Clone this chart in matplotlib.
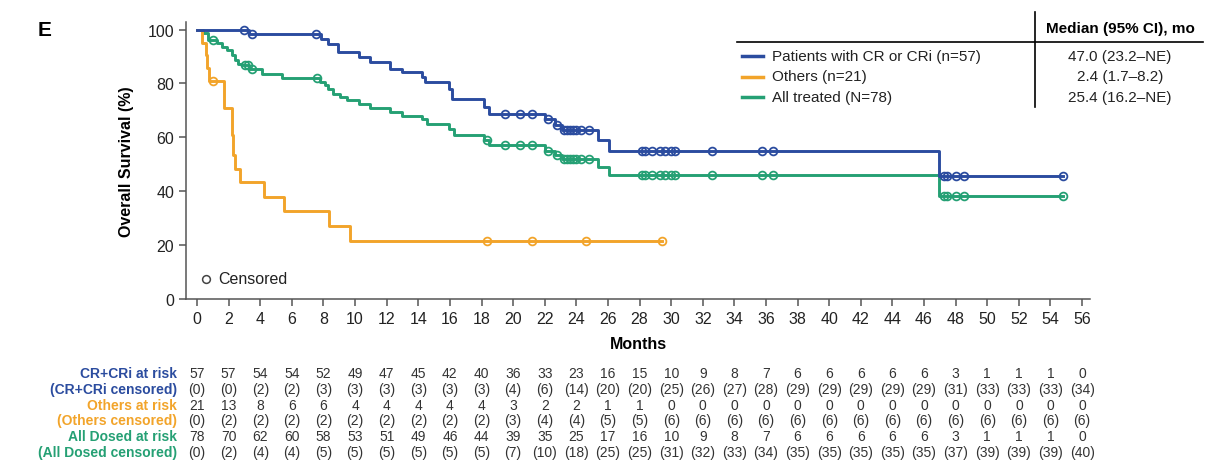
import numpy as np
import matplotlib
matplotlib.use("Agg")
from matplotlib import pyplot as plt
from matplotlib.lines import Line2D
from matplotlib import transforms

plt.rcParams['font.family'] = ['Liberation Sans', 'DejaVu Sans']

BLUE = '#2B4C9F'
ORANGE = '#F2A42A'
GREEN = '#25A074'

# Kaplan-Meier steps (month, survival %)
cr_t = [0, 3.3, 7.85, 8.3, 8.9, 10.22, 10.96, 12.22, 12.96, 14.23, 14.44, 15.92,
        16.13, 18.13, 18.45, 22.04, 22.67, 23.1, 25.4, 26.05, 46.95]
cr_s = [100, 98.2, 96.5, 94.7, 91.6, 89.8, 88.0, 85.5, 84.3, 82.4, 80.6, 78.1,
        74.3, 71.3, 68.8, 66.9, 64.4, 62.6, 58.9, 55.1, 45.8]
cr_cens = [3.0, 3.5, 7.55, 19.5, 20.46, 21.2, 22.2, 22.8, 23.2, 23.4, 23.6, 23.8,
           24.0, 24.3, 24.78, 28.16, 28.37, 28.8, 29.32, 29.64, 29.96, 30.27,
           32.6, 35.76, 36.46, 47.27, 47.48, 48.0, 48.53, 54.76]

oth_t = [0, 0.32, 0.55, 0.65, 0.74, 1.69, 2.22, 2.3, 2.43, 2.74, 4.22, 5.47, 8.32, 9.65]
oth_s = [100, 95.2, 90.5, 85.7, 81.0, 70.9, 60.8, 53.3, 48.3, 43.4, 37.8, 32.5, 27.0, 21.6]
oth_cens = [0.99, 18.35, 21.2, 24.64, 29.39]

all_t = [0, 0.4, 0.72, 1.25, 1.56, 1.88, 2.2, 2.4, 2.62, 2.83, 3.3, 4.1, 5.36,
         7.79, 8.1, 8.3, 8.63, 9.05, 9.48, 10.22, 10.96, 12.22, 12.96, 14.23,
         14.55, 15.92, 16.23, 18.13, 18.45, 22.04, 22.67, 23.1, 25.4, 26.05, 46.95]
all_s = [100, 98.7, 96.2, 94.9, 93.6, 92.3, 90.5, 88.6, 87.3, 86.7, 85.4, 83.6, 82.0,
         80.6, 79.3, 78.1, 76.2, 75.0, 73.7, 72.5, 70.9, 69.4, 68.1, 66.9,
         65.1, 63.2, 60.7, 58.9, 57.0, 55.1, 53.3, 52.0, 49.0, 46.1, 38.4]
all_cens = [0.98, 3.04, 3.25, 3.46, 7.6, 18.35, 19.5, 20.46, 21.2, 22.2, 22.8, 23.2,
            23.4, 23.6, 23.8, 24.0, 24.3, 24.78, 28.16, 28.37, 28.8, 29.32, 29.64,
            29.96, 30.27, 32.6, 35.76, 36.46, 47.27, 47.48, 48.0, 48.53, 54.76]

labels = ['Patients with CR or CRi (n=57)', 'Others (n=21)', 'All treated (N=78)']
medians = ['47.0 (23.2\u2013NE)', '2.4 (1.7\u20138.2)', '25.4 (16.2\u2013NE)']

# numbers at risk / censored, every 2 months
risk_months = list(range(0, 57, 2))
cr_risk = [57, 57, 54, 54, 52, 49, 47, 45, 42, 40, 36, 33, 23, 16, 15, 10, 9, 8, 7,
           6, 6, 6, 6, 6, 3, 1, 1, 1, 0]
cr_ncens = [0, 0, 2, 2, 3, 3, 3, 3, 3, 3, 4, 6, 14, 20, 20, 25, 26, 27, 28, 29, 29,
            29, 29, 29, 31, 33, 33, 33, 34]
oth_risk = [21, 13, 8, 6, 6, 4, 4, 4, 4, 4, 3, 2, 2, 1, 1] + [0] * 14
oth_ncens = [0, 2, 2, 2, 2, 2, 2, 2, 2, 2, 3, 4, 4, 5, 5] + [6] * 14
all_risk = [78, 70, 62, 60, 58, 53, 51, 49, 46, 44, 39, 35, 25, 17, 16, 10, 9, 8, 7,
            6, 6, 6, 6, 6, 3, 1, 1, 1, 0]
all_ncens = [0, 2, 4, 4, 5, 5, 5, 5, 5, 5, 7, 10, 18, 25, 25, 31, 32, 33, 34, 35, 35,
             35, 35, 35, 37, 39, 39, 39, 40]

W, H = 1217, 477
fig = plt.figure(figsize=(W / 100, H / 100), dpi=100)
fig.patch.set_facecolor('white')
ax = fig.add_axes([186 / W, 1 - 300 / H, (1090 - 186) / W, (300 - 22.5) / H])


def surv_at(t, s, x):
    idx = np.searchsorted(np.asarray(t), np.asarray(x), side='right') - 1
    return np.asarray(s)[idx]


def draw_curve(t, s, cens, color):
    end = max(cens)
    xs = list(t) + [end]
    ys = list(s) + [s[-1]]
    ax.step(xs, ys, where='post', color=color, lw=2.1, zorder=3)
    ax.plot(cens, surv_at(t, s, cens), 'o', ms=5.6, mfc='none', mec=color,
            mew=1.3, zorder=4)


draw_curve(all_t, all_s, all_cens, GREEN)
draw_curve(oth_t, oth_s, oth_cens, ORANGE)
draw_curve(cr_t, cr_s, cr_cens, BLUE)

ax.set_xlim(-0.7, 56.5)
ax.set_ylim(0, 103)
ax.set_xticks(risk_months)
ax.set_yticks(range(0, 101, 20))
ax.tick_params(labelsize=11.5, length=5, width=1.1, color='#555555',
               labelcolor='#222222')
for side in ['top', 'right']:
    ax.spines[side].set_visible(False)
for side in ['left', 'bottom']:
    ax.spines[side].set_linewidth(1.1)
    ax.spines[side].set_color('#555555')
ax.set_xlabel('Months', fontsize=11.5, fontweight='bold', labelpad=7)
ax.set_ylabel('Overall Survival (%)', fontsize=11.5, fontweight='bold', labelpad=10)

# censored key
ax.plot([0.55], [7.5], 'o', ms=5.6, mfc='none', mec='#444444', mew=1.1)
ax.text(1.35, 7.5, 'Censored', fontsize=11.5, va='center', color='#222222')

fig.text(38 / W, 1 - 30 / H, 'E', fontsize=15, fontweight='bold', va='center')

# legend with median table
fig.add_artist(Line2D([737 / W, 1203 / W], [1 - 43 / H] * 2, color='black', lw=1.2))
fig.add_artist(Line2D([1035 / W] * 2, [1 - 13 / H, 1 - 108 / H], color='black', lw=1.2))
fig.text(1120 / W, 1 - 29 / H, 'Median (95% CI), mo', fontsize=11, fontweight='bold',
         ha='center', va='center')
for i, (lab, med, col) in enumerate(zip(labels, medians, [BLUE, ORANGE, GREEN])):
    yy = 1 - (57 + 20.5 * i) / H
    fig.add_artist(Line2D([742 / W, 763 / W], [yy, yy], color=col, lw=2.5))
    fig.text(772 / W, yy, lab, fontsize=11, va='center', color='#222222')
    fig.text(1120 / W, yy, med, fontsize=11, va='center', ha='center', color='#222222')

# risk table
rows = [('CR+CRi at risk', cr_risk, BLUE, False),
        ('(CR+CRi censored)', cr_ncens, BLUE, True),
        ('Others at risk', oth_risk, ORANGE, False),
        ('(Others censored)', oth_ncens, ORANGE, True),
        ('All Dosed at risk', all_risk, GREEN, False),
        ('(All Dosed censored)', all_ncens, GREEN, True)]
trans = transforms.blended_transform_factory(ax.transData, fig.transFigure)
for r, (name, vals, col, paren) in enumerate(rows):
    yy = 1 - (374 + 15.8 * r) / H
    fig.text(177 / W, yy, name, fontsize=10, fontweight='bold', color=col,
             ha='right', va='center')
    for m, v in zip(risk_months, vals):
        txt = f'({v})' if paren else str(v)
        ax.text(m, yy, txt, transform=trans, fontsize=10, ha='center', va='center',
                color='#333333', clip_on=False)

fig.savefig('out.png', dpi=100, facecolor='white')
